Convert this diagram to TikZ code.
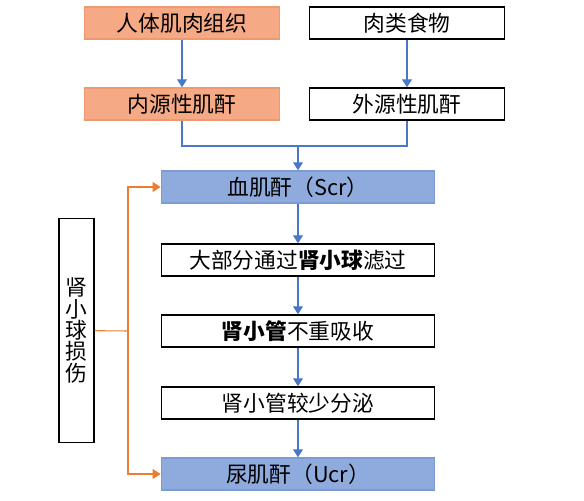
\documentclass[tikz,border=0pt]{standalone}
\usepackage{fontspec}
\setmainfont{Noto Sans CJK SC}
\usetikzlibrary{arrows.meta}
\definecolor{boxorange}{HTML}{F5A985}
\definecolor{edgeorange}{HTML}{EE9A70}
\definecolor{boxblue}{HTML}{8FAADC}
\definecolor{edgeblue}{HTML}{7C9AD4}
\definecolor{lineblue}{HTML}{4A78C8}
\definecolor{lineorange}{HTML}{ED7D31}
\tikzset{%
  stagebox/.style  = {shape=rectangle, draw, line width=1.1pt,%
                      minimum height=24pt, inner sep=0pt,%
                      font=\fontsize{16.3}{18}\selectfont},%
  sourcebox/.style = {stagebox, minimum width=146pt},%
  tissuebox/.style = {sourcebox, fill=boxorange, draw=edgeorange},%
  bloodbox/.style  = {stagebox, minimum width=205pt, fill=boxblue, draw=edgeblue},%
  stepbox/.style   = {stagebox, minimum width=205pt},%
  flow/.style      = {draw=lineblue, line width=0.8pt},%
  flowarrow/.style = {flow, -{Triangle[width=7.5pt,length=6pt]}},%
  damage/.style    = {draw=lineorange, line width=0.8pt},%
  damagearrow/.style = {damage, -{Triangle[width=7.5pt,length=6pt]}}%
}
\begin{document}
\begin{tikzpicture}[x=0.75pt,y=-0.75pt]
  \useasboundingbox (0,0) rectangle (584,500);
  % sources
  \node[tissuebox] (body) at (182,23) {人体肌肉组织};
  \node[sourcebox] (food) at (407,23) {肉类食物};
  \node[tissuebox] (endo) at (182,104) {内源性肌酐};
  \node[sourcebox] (exo)  at (407,104) {外源性肌酐};
  % kidney path
  \node[bloodbox] (scr)  at (298,187) {血肌酐（Scr）};
  \node[stepbox]  (filt) at (298,260) {大部分通过\textbf{肾小球}滤过};
  \node[stepbox]  (reab) at (298,331) {\textbf{肾小管}不重吸收};
  \node[stepbox]  (secr) at (298,403) {肾小管较少分泌};
  \node[bloodbox] (ucr)  at (298,474) {尿肌酐（Ucr）};
  \node[stagebox, minimum width=26pt, minimum height=168pt, align=center,%
        font=\fontsize{16.3}{16}\selectfont] (injury) at (76.5,330.5)
        {肾\\小\\球\\损\\伤};
  \coordinate (merge) at (298,146);
  \coordinate (split) at (128,331);
  \draw[flowarrow] (body) -- (endo);
  \draw[flowarrow] (food) -- (exo);
  \draw[flow] (endo.south) |- (merge) -| (exo.south);
  \draw[flowarrow] (merge) -- (scr);
  \draw[flowarrow] (scr) -- (filt);
  \draw[flowarrow] (filt) -- (reab);
  \draw[flowarrow] (reab) -- (secr);
  \draw[flowarrow] (secr) -- (ucr);
  \draw[damage] (injury) -- (split);
  \draw[damagearrow] (split) |- (scr);
  \draw[damagearrow] (split) |- (ucr);
\end{tikzpicture}
\end{document}
